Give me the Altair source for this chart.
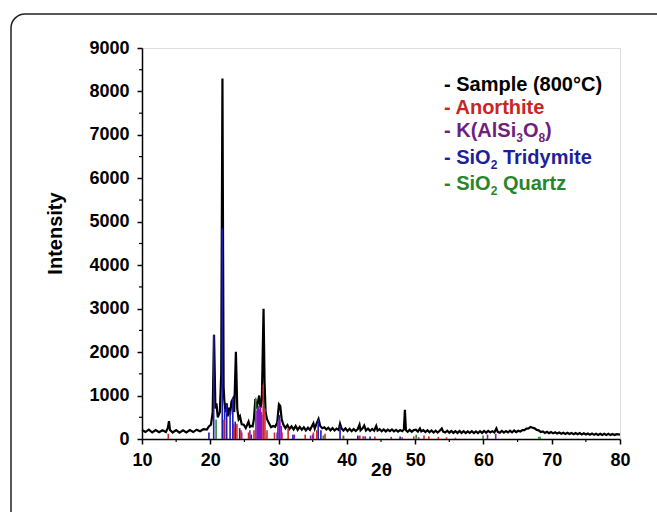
import altair as alt
import pandas as pd

# ---------------- data ----------------
sample_2theta = [
    10.0, 10.5, 11.0, 11.5, 12.0, 12.5, 13.0, 13.5, 13.8, 13.95, 14.1, 14.5, 15.0, 15.5, 16.0, 16.5,
    17.0, 17.5, 18.0, 18.5, 19.0, 19.5, 19.8, 20.1, 20.35, 20.55, 20.75, 20.9, 21.1, 21.4, 21.6,
    21.78, 21.95, 22.05, 22.2, 22.4, 22.55, 22.75, 22.9, 23.1, 23.3, 23.5, 23.75, 23.95, 24.15,
    24.35, 24.6, 24.9, 25.2, 25.6, 25.8, 26.0, 26.2, 26.4, 26.6, 26.75, 26.95, 27.15, 27.35, 27.55,
    27.8, 27.95, 28.1, 28.3, 28.6, 28.9, 29.2, 29.5, 29.8, 30.05, 30.25, 30.45, 30.7, 31.0, 31.3,
    31.6, 31.9, 32.2, 32.5, 32.8, 33.1, 33.4, 33.7, 34.0, 34.3, 34.6, 34.9, 35.1, 35.3, 35.6, 35.85,
    36.1, 36.4, 36.7, 37.0, 37.3, 37.6, 37.9, 38.2, 38.5, 38.8, 39.0, 39.2, 39.5, 39.8, 40.1, 40.4,
    40.7, 41.0, 41.3, 41.6, 41.85, 42.0, 42.3, 42.55, 42.8, 43.1, 43.4, 43.7, 44.0, 44.3, 44.5, 44.8,
    45.1, 45.4, 45.7, 46.0, 46.3, 46.6, 46.9, 47.2, 47.5, 47.8, 48.1, 48.35, 48.5, 48.65, 48.9, 49.2,
    49.5, 49.8, 50.1, 50.4, 50.7, 50.9, 51.2, 51.5, 51.8, 52.1, 52.4, 52.7, 53.0, 53.3, 53.6, 53.9,
    54.1, 54.4, 54.7, 55.0, 55.3, 55.6, 55.9, 56.2, 56.5, 56.8, 57.1, 57.4, 57.7, 58.0, 58.3, 58.6,
    58.9, 59.2, 59.5, 59.8, 60.1, 60.4, 60.7, 61.0, 61.3, 61.6, 61.9, 62.1, 62.4, 62.7, 63.0, 63.3,
    63.6, 63.9, 64.2, 64.5, 64.8, 65.1, 65.4, 65.7, 66.0, 66.3, 66.6, 66.9, 67.2, 67.5, 67.8, 68.1,
    68.4, 68.7, 69.0, 69.3, 69.6, 69.9, 70.2, 70.5, 70.8, 71.1, 71.4, 71.7, 72.0, 72.3, 72.6, 72.9,
    73.2, 73.5, 73.8, 74.1, 74.4, 74.7, 75.0, 75.3, 75.6, 75.9, 76.2, 76.5, 76.8, 77.1, 77.4, 77.7,
    78.0, 78.3, 78.6, 78.9, 79.2, 79.5, 80.0,
]
sample_intensity = [
    210, 160, 215, 150, 205, 155, 200, 160, 260, 410, 210, 150, 205, 145, 200, 150,
    205, 160, 215, 180, 225, 215, 290, 330, 620, 2400, 700, 820, 500, 620, 1500,
    8300, 1200, 900, 620, 820, 520, 720, 560, 860, 920, 620, 2010, 700, 460,
    520, 340, 330, 250, 400, 280, 300, 290, 470, 920, 700, 820, 1000, 720, 900,
    3000, 1300, 620, 460, 360, 270, 300, 280, 380, 800, 760, 460, 330, 250, 320,
    230, 290, 220, 300, 210, 280, 215, 270, 200, 260, 210, 300, 360, 240, 370, 460,
    300, 250, 270, 220, 260, 200, 250, 195, 240, 210, 350, 250, 195, 245, 185, 235,
    180, 230, 185, 230, 330, 200, 245, 310, 195, 240, 185, 230, 190, 300, 195, 225,
    180, 220, 175, 215, 180, 220, 175, 210, 170, 205, 180, 220, 670, 200, 165, 210,
    165, 205, 215, 170, 240, 175, 205, 160, 200, 155, 195, 150, 190, 150, 190, 240,
    170, 150, 190, 145, 185, 140, 180, 140, 185, 140, 180, 135, 175, 140, 180, 135,
    175, 135, 180, 140, 185, 145, 185, 150, 180, 150, 245, 165, 145, 185, 145, 180,
    150, 190, 155, 195, 160, 190, 170, 205, 205, 240, 245, 275, 260, 245, 210, 200,
    160, 175, 140, 165, 135, 160, 130, 155, 125, 150, 120, 145, 118, 145, 115, 140,
    112, 138, 110, 135, 105, 130, 102, 128, 100, 125, 98, 122, 95, 120, 92, 118,
    92, 118, 90, 115, 90, 112, 100,
]

anorthite_2theta = [13.85, 22.0, 23.5, 23.9, 24.5, 25.6, 26.4, 27.75, 28.0, 28.3, 29.4, 30.5,
                    31.4, 33.9, 35.1, 35.6, 36.8, 39.5, 41.9, 42.4, 44.1, 46.5, 48.1, 49.8,
                    51.3, 52.0, 53.4, 54.6, 55.9]
anorthite_intensity = [120, 450, 250, 350, 200, 150, 200, 1250, 700, 200, 150, 150,
                       250, 100, 150, 200, 120, 80, 80, 60, 60, 50, 40, 60,
                       80, 60, 50, 40, 30]

kfeldspar_2theta = [23.4, 24.6, 25.8, 26.85, 26.95, 27.05, 27.15, 27.25, 27.35, 27.45, 27.55,
                    29.9, 30.2, 30.4, 32.3, 34.7, 35.0, 41.8, 42.7, 50.5, 60.6, 61.8]
kfeldspar_intensity = [350, 150, 200, 650, 720, 760, 700, 680, 740, 620, 560,
                       400, 450, 300, 100, 80, 100, 50, 60, 40, 100, 120]

tridymite_2theta = [19.8, 20.5, 21.75, 22.1, 22.4, 22.9, 23.3, 23.65, 24.3, 26.0, 27.3, 29.8,
                    30.1, 32.1, 35.8, 36.2, 39.0, 41.6, 43.4, 47.8]
tridymite_intensity = [150, 2400, 4850, 700, 800, 650, 950, 400, 250, 100, 200, 150,
                       550, 100, 450, 200, 300, 80, 60, 60]

quartz_2theta = [20.85, 26.65, 36.55, 39.5, 42.45, 50.15, 59.95, 68.1, 68.3]
quartz_intensity = [450, 950, 80, 60, 60, 100, 80, 50, 50]

x_ticks = [10, 20, 30, 40, 50, 60, 70, 80]
x_minor = [15, 25, 35, 45, 55, 65, 75]
y_ticks = [0, 1000, 2000, 3000, 4000, 5000, 6000, 7000, 8000, 9000]
y_minor = [500, 1500, 2500, 3500, 4500, 5500, 6500, 7500, 8500]

# legend lines as (text, is_subscript) pieces
legend_pieces = [
    [("- Sample (800°C)", False)],
    [("- Anorthite", False)],
    [("- K(AlSi", False), ("3", True), ("O", False), ("8", True), (")", False)],
    [("- SiO", False), ("2", True), (" Tridymite", False)],
    [("- SiO", False), ("2", True), (" Quartz", False)],
]

# ---------------- styling ----------------
FONT = "Liberation Sans"
W, H = 478, 391
phase_names = ["Quartz", "Tridymite", "K(AlSi3O8)", "Anorthite"]
phase_colors = ["#2a8f2a", "#1c1cb8", "#8a14c8", "#d02828"]
legend_colors = ["#000000", "#c82626", "#6e1f80", "#1f1f9c", "#2a852a"]
legend_baseline = [43, 66, 89, 116, 142]
LEG_X = 302
LEG_SIZE, SUB_SIZE, SUB_DROP = 20, 12, 5

# Arial/Liberation Sans Bold advance widths (per 1000 em)
ADV = {"-": 333, " ": 278, "K": 722, "(": 333, "A": 722, "l": 278, "S": 667, "i": 278,
       "O": 778, ")": 333, "2": 556, "3": 556, "8": 556}


def text_width(s, size):
    return sum(ADV.get(c, 556) for c in s) * size / 1000.0


sample_df = pd.DataFrame({"two_theta": sample_2theta, "intensity": sample_intensity})
frames = []
for name, xs_, ys_ in [("Quartz", quartz_2theta, quartz_intensity),
                       ("Tridymite", tridymite_2theta, tridymite_intensity),
                       ("K(AlSi3O8)", kfeldspar_2theta, kfeldspar_intensity),
                       ("Anorthite", anorthite_2theta, anorthite_intensity)]:
    frames.append(pd.DataFrame({"two_theta": xs_, "intensity": ys_, "phase": name, "base": 0}))
sticks_df = pd.concat(frames, ignore_index=True)

xscale = alt.Scale(domain=[10, 80], nice=False, zero=False)
yscale = alt.Scale(domain=[0, 9000], nice=False)

common_axis = dict(
    labelFont=FONT, labelFontSize=18, labelFontWeight="bold", labelColor="black",
    labelFlush=False, labelOverlap=False,
    titleFont=FONT, titleFontWeight="bold", titleColor="black",
    domainColor="black", domainWidth=1.5, tickColor="black", tickWidth=1.5,
    tickSize=5, grid=False,
)

xaxis = alt.Axis(values=x_ticks, labelPadding=7, title="2θ", titleFontSize=19,
                 titleX=W / 2, titleY=30, titleBaseline="middle", **common_axis)
yaxis = alt.Axis(values=y_ticks, format="d", labelPadding=8, title="Intensity", titleFontSize=20,
                 titleX=-87, titleY=185, titleBaseline="middle", titleAlign="center", **common_axis)

line = alt.Chart(sample_df).mark_line(color="black", strokeWidth=2.2).encode(
    x=alt.X("two_theta:Q", scale=xscale, axis=xaxis),
    y=alt.Y("intensity:Q", scale=yscale, axis=yaxis),
)

sticks = alt.Chart(sticks_df).mark_rule(strokeWidth=1.6).encode(
    x=alt.X("two_theta:Q", scale=xscale),
    y=alt.Y("base:Q", scale=yscale),
    y2="intensity:Q",
    color=alt.Color("phase:N", scale=alt.Scale(domain=phase_names, range=phase_colors), legend=None),
)

xminor = alt.Chart(pd.DataFrame({"v": x_minor})).mark_rule(color="black", strokeWidth=1.2).encode(
    x=alt.X("v:Q", scale=xscale), y=alt.value(H), y2=alt.value(H + 3))
yminor = alt.Chart(pd.DataFrame({"v": y_minor})).mark_rule(color="black", strokeWidth=1.2).encode(
    y=alt.Y("v:Q", scale=yscale), x=alt.value(-3), x2=alt.value(0))

border = alt.Chart(pd.DataFrame({"a": [0]})).mark_rect(
    filled=False, fill=None, stroke="#222222", strokeWidth=1.5, cornerRadius=14
).encode(x=alt.value(11 - 142), x2=alt.value(700), y=alt.value(14 - 48), y2=alt.value(600))

layers = [border, line, sticks, xminor, yminor]
for pieces, col, yb in zip(legend_pieces, legend_colors, legend_baseline):
    cx = LEG_X
    for txt, is_sub in pieces:
        size = SUB_SIZE if is_sub else LEG_SIZE
        stripped = txt.lstrip(" ")
        cx += text_width(txt[: len(txt) - len(stripped)], size)
        layers.append(
            alt.Chart(pd.DataFrame({"t": [stripped]})).mark_text(
                align="left", baseline="alphabetic", font=FONT, fontSize=size,
                fontWeight="bold", color=col
            ).encode(text="t:N", x=alt.value(cx), y=alt.value(yb + (SUB_DROP if is_sub else 0)))
        )
        cx += text_width(stripped, size)

chart = alt.layer(*layers).properties(
    width=W, height=H,
    autosize=alt.AutoSizeParams(type="none"),
    padding={"left": 142, "top": 48, "right": 37, "bottom": 73},
).configure_view(stroke="black", strokeWidth=1.5).configure(background="white")

chart.save("out.html", embed_options={"renderer": "svg", "actions": False})
